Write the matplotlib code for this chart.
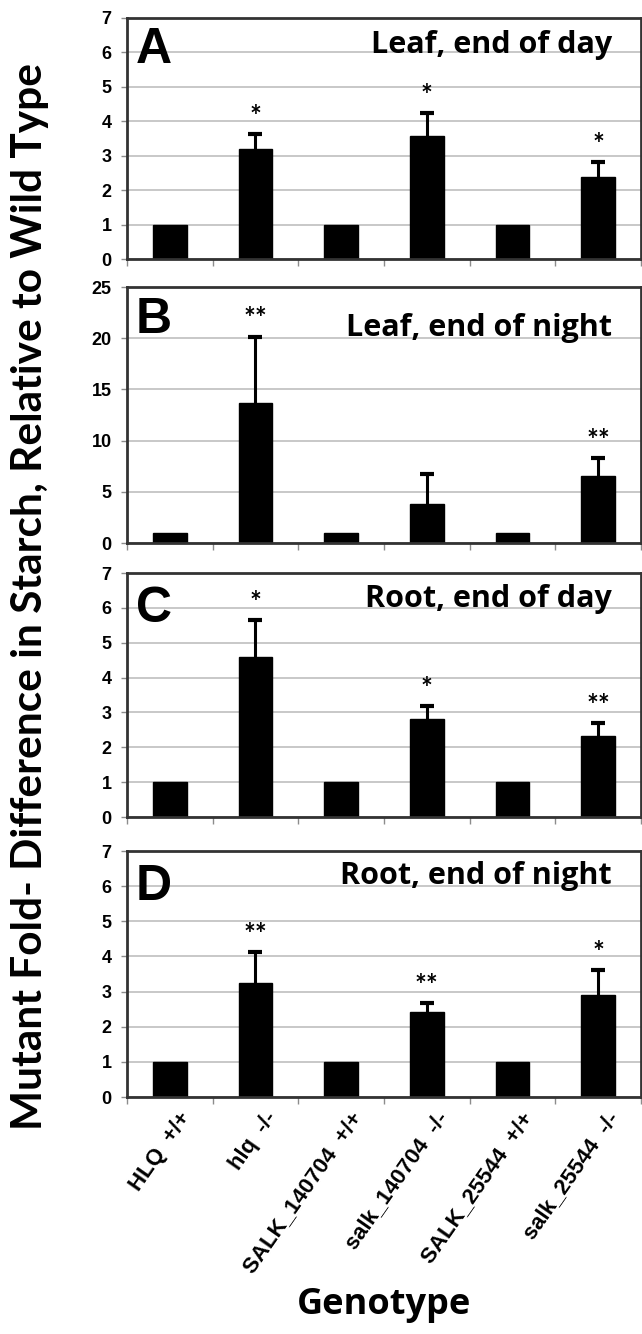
import matplotlib
matplotlib.use('Agg')
import matplotlib.pyplot as plt
import matplotlib.transforms as mtransforms
import numpy as np

# data
genotypes = ['HLQ  +/+', 'hlq  -/-', 'SALK_140704  +/+', 'salk_140704  -/-',
             'SALK_25544  +/+', 'salk_25544  -/-']
panel_letters = ['A', 'B', 'C', 'D']
panel_titles = ['Leaf, end of day', 'Leaf, end of night',
                'Root, end of day', 'Root, end of night']

leaf_day = [1, 3.19, 1, 3.57, 1, 2.37]
leaf_day_err = [0, 0.43, 0, 0.66, 0, 0.44]
leaf_day_sig = ['', '*', '', '*', '', '*']

leaf_night = [1, 13.7, 1, 3.78, 1, 6.57]
leaf_night_err = [0, 6.45, 0, 2.92, 0, 1.70]
leaf_night_sig = ['', '**', '', '', '', '**']

root_day = [1, 4.58, 1, 2.81, 1, 2.33]
root_day_err = [0, 1.07, 0, 0.38, 0, 0.36]
root_day_sig = ['', '*', '', '*', '', '**']

root_night = [1, 3.25, 1, 2.41, 1, 2.89]
root_night_err = [0, 0.88, 0, 0.26, 0, 0.72]
root_night_sig = ['', '**', '', '**', '', '*']

ymax = [7, 25, 7, 7]
ystep = [1, 5, 1, 1]

#%%
W, H = 642, 1334
fig = plt.figure(figsize=(W / 100, H / 100), dpi=100)

def px(x, y):
    return x / W, 1 - y / H

# pixel boxes of the four panels: (top, bottom)
boxes = [(18, 259), (287, 543), (573, 817), (851, 1097)]
left, right = 127, 641
letter_top = [27, 297, 586, 864]
title_base = [53, 336, 607, 884]

values = [leaf_day, leaf_night, root_day, root_night]
errors = [leaf_day_err, leaf_night_err, root_day_err, root_night_err]
sigs = [leaf_day_sig, leaf_night_sig, root_day_sig, root_night_sig]

x = np.arange(len(genotypes))
frame_col = '#333333'
tick_col = '#8c8c8c'

for i in range(4):
    top, bot = boxes[i]
    ax = fig.add_axes([left / W, 1 - bot / H, (right - left) / W, (bot - top) / H])

    ax.set_axisbelow(True)
    ax.yaxis.grid(True, color='#c4c4c4', linewidth=1.3)
    ax.bar(x, values[i], width=0.39, color='black', edgecolor='black', zorder=3)

    # upward error bars only, for the mutants
    v = np.array(values[i])
    e = np.array(errors[i])
    has = e > 0
    ax.vlines(x[has], v[has], v[has] + e[has], color='black', linewidth=2.2, zorder=4)
    ax.plot(x[has], v[has] + e[has], ls='none', marker='_', markersize=10,
            mew=3, color='black', zorder=4)

    for j in range(len(x)):
        if sigs[i][j]:
            ax.annotate(sigs[i][j], (x[j], v[j] + e[j]),
                        xytext=(0, 3), textcoords='offset points',
                        ha='center', va='bottom', fontsize=20,
                        fontweight='bold', family='Lato', zorder=5)

    ax.set_xlim(-0.5, len(x) - 0.5)
    ax.set_ylim(0, ymax[i])
    ax.set_yticks(np.arange(0, ymax[i] + 1, ystep[i]))
    ax.tick_params(axis='y', direction='out', length=4, width=1, color=tick_col,
                   pad=7, labelsize=13)
    for lab in ax.get_yticklabels():
        lab.set_fontweight('bold')
        lab.set_family('Liberation Sans')

    # ticks between categories, labels at centers
    ax.set_xticks(np.arange(-0.5, len(x), 1.0), minor=True)
    ax.tick_params(axis='x', which='minor', direction='out', length=5, width=1,
                   color=tick_col)
    ax.set_xticks(x)
    ax.tick_params(axis='x', which='major', length=0)
    if i < 3:
        ax.set_xticklabels([])
    else:
        ax.set_xticklabels(genotypes, rotation=55, ha='right', va='top',
                           rotation_mode='anchor', fontsize=16,
                           fontweight='bold', family='Liberation Sans')
        ax.tick_params(axis='x', which='major', pad=8)
        shift = mtransforms.ScaledTranslation(8 / 100, 0, fig.dpi_scale_trans)
        for lab in ax.get_xticklabels():
            lab.set_transform(lab.get_transform() + shift)

    for s in ax.spines.values():
        s.set_color(frame_col)
        s.set_linewidth(2)
        s.set_zorder(6)

    lx, ly = px(136, letter_top[i])
    fig.text(lx, ly, panel_letters[i], ha='left', va='top', fontsize=36,
             fontweight='bold', family='Liberation Sans')
    tx, ty = px(612, title_base[i])
    fig.text(tx, ty, panel_titles[i], ha='right', va='baseline', fontsize=22,
             fontweight='bold', family='Open Sans')

# labels
lx, ly = px(30, 596)
fig.text(lx, ly, 'Mutant Fold- Difference in Starch, Relative to Wild Type',
         rotation=90, ha='center', va='center', fontsize=30.5, fontweight='bold',
         family='Lato')
gx, gy = px(384, 1305)
fig.text(gx, gy, 'Genotype', ha='center', va='center', fontsize=26,
         fontweight='bold', family='Open Sans')

fig.savefig('out.png', dpi=100, facecolor='white')
